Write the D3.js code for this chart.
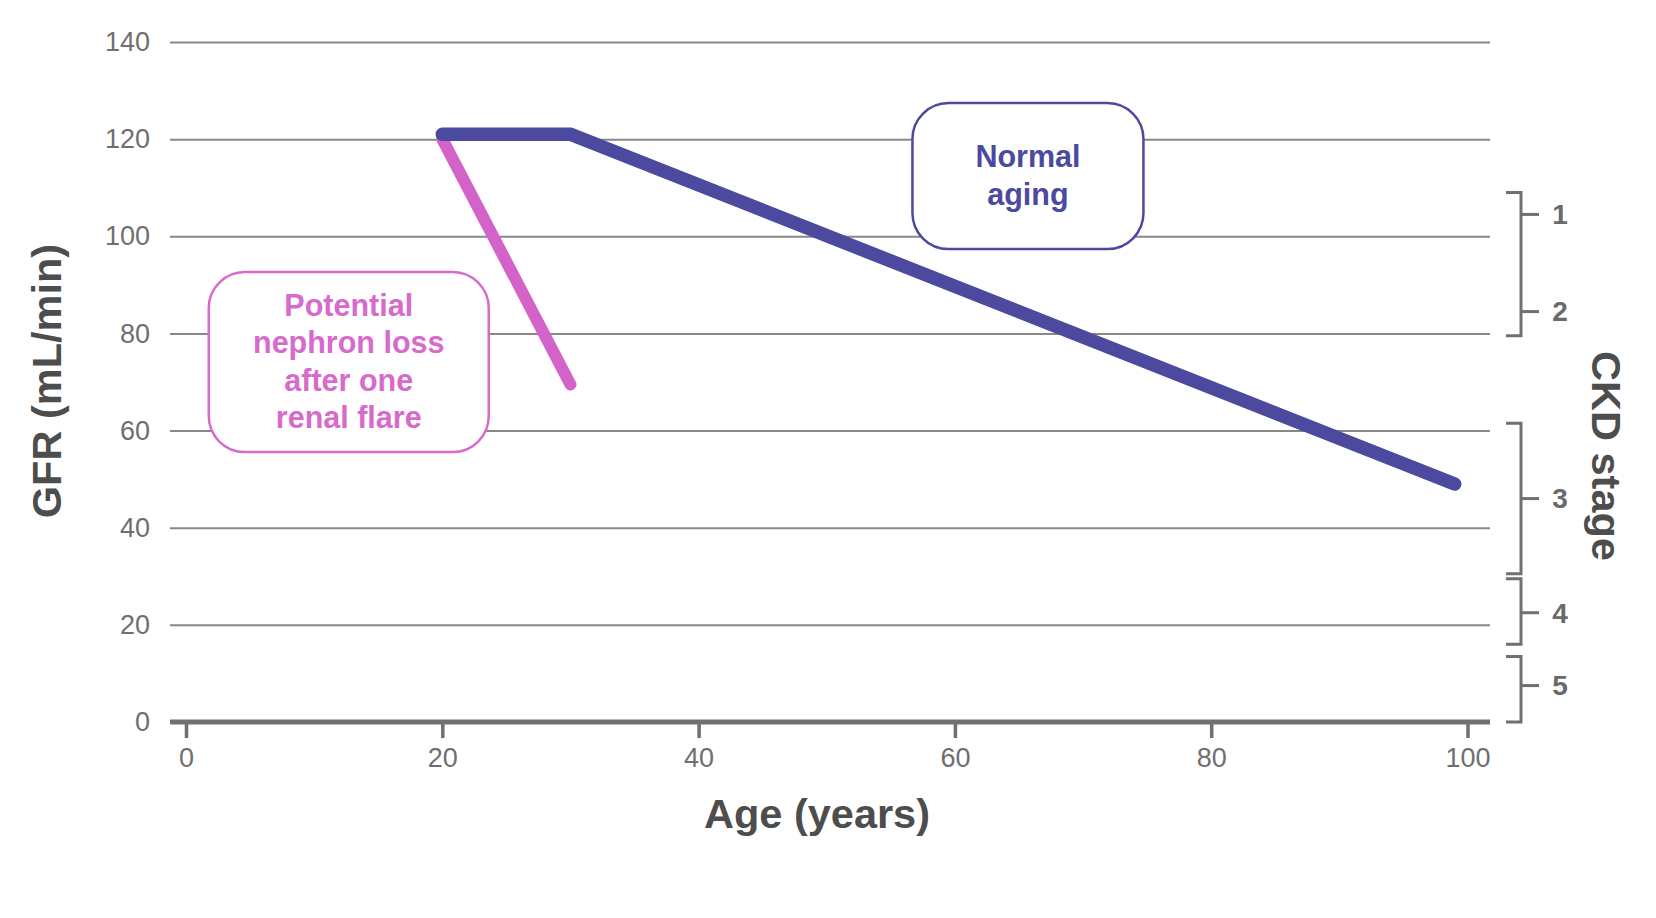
<!DOCTYPE html>
<html>
<head>
<meta charset="utf-8">
<script src="https://cdn.jsdelivr.net/npm/d3@7"></script>
<style>
  html, body { margin: 0; padding: 0; background: #fff; }
  text { font-family: "Liberation Sans", Arial, sans-serif; }
</style>
</head>
<body>
<div id="chart"></div>
<script>
// data
const xTicks = [0, 20, 40, 60, 80, 100];
const yTicks = [0, 20, 40, 60, 80, 100, 120, 140];

const normalAging = [[20, 121], [30, 121], [99, 49]];
const renalFlare = [[20, 120], [30, 69.5]];

// CKD stage brackets on the right (GFR ranges)
const bracketLo = [79.5, 30.5, 16, 0];
const bracketHi = [109, 61.5, 29.5, 13.5];
const stageTicks = [[104.5, 84.5], [46], [22.5], [7.5]];
const stageLabels = [["1", "2"], ["3"], ["4"], ["5"]];

// annotation boxes: centre in data coords
const notes = [
  {age: 65.7, gfr: 112.4, w: 231, h: 146, color: "#4b4a9e", lines: ["Normal", "aging"]},
  {age: 12.7, gfr: 74.1, w: 280, h: 180, color: "#d66bcc", lines: ["Potential", "nephron loss", "after one", "renal flare"]}
];

const width = 1656;
const height = 918;
const gridL = 170, gridR = 1490;

const svg = d3.select("#chart")
    .append("svg")
    .attr("width", width)
    .attr("height", height)
    .attr("viewBox", [0, 0, width, height]);

const x = d3.scaleLinear().domain([0, 100]).range([186, 1467.5]);
const y = d3.scaleLinear().domain([0, 140]).range([722, 42]);

// y axis + gridlines
const yAxis = svg.append("g")
    .attr("transform", `translate(${gridL},0)`)
    .call(d3.axisLeft(y).tickValues(yTicks).tickSize(-(gridR - gridL)).tickPadding(20));
yAxis.select(".domain").remove();
yAxis.selectAll(".tick line").attr("stroke", "#888").attr("stroke-width", 2);
yAxis.selectAll(".tick text")
    .attr("fill", "#6f6f6f")
    .attr("font-size", 27)
    .style("font-family", "'Liberation Sans', Arial, sans-serif");

// x axis
const xAxis = svg.append("g")
    .attr("transform", `translate(0,${y(0)})`)
    .call(d3.axisBottom(x).tickValues(xTicks).tickSize(16).tickPadding(10));
xAxis.select(".domain").remove();
xAxis.selectAll(".tick line").attr("stroke", "#707070").attr("stroke-width", 3.5);
xAxis.selectAll(".tick text")
    .attr("fill", "#6f6f6f")
    .attr("font-size", 27)
    .style("font-family", "'Liberation Sans', Arial, sans-serif");

// baseline
svg.append("line")
    .attr("x1", gridL).attr("x2", gridR)
    .attr("y1", y(0)).attr("y2", y(0))
    .attr("stroke", "#707070")
    .attr("stroke-width", 5);

// lines
const line = d3.line().x(d => x(d[0])).y(d => y(d[1]));

svg.append("path")
    .datum(renalFlare)
    .attr("d", line)
    .attr("fill", "none")
    .attr("stroke", "#d463c9")
    .attr("stroke-width", 12)
    .attr("stroke-linecap", "round");

svg.append("path")
    .datum(normalAging)
    .attr("d", line)
    .attr("fill", "none")
    .attr("stroke", "#4b4a9e")
    .attr("stroke-width", 13.5)
    .attr("stroke-linecap", "round")
    .attr("stroke-linejoin", "miter");

// annotation boxes
notes.forEach(n => {
    const cx = x(n.age), cy = y(n.gfr);
    const g = svg.append("g");
    g.append("rect")
        .attr("x", cx - n.w / 2).attr("y", cy - n.h / 2)
        .attr("width", n.w).attr("height", n.h)
        .attr("rx", 36).attr("ry", 36)
        .attr("fill", "white")
        .attr("stroke", n.color)
        .attr("stroke-width", 2.5);
    const lh = 37.5;
    const y0 = cy - (n.lines.length - 1) * lh / 2;
    g.selectAll("text")
        .data(n.lines)
        .join("text")
        .attr("x", cx)
        .attr("y", (d, i) => y0 + i * lh)
        .attr("dy", "0.32em")
        .attr("text-anchor", "middle")
        .attr("font-size", 30.5)
        .attr("font-weight", "bold")
        .attr("fill", n.color)
        .text(d => d);
});

// CKD stage brackets
const bx = 1521, serif = 15, tickLen = 18;
const bStroke = "#707070";
bracketLo.forEach((lo, i) => {
    const hi = bracketHi[i];
    const g = svg.append("g");
    g.append("path")
        .attr("d", `M${bx - serif},${y(hi)}H${bx}V${y(lo)}H${bx - serif}`)
        .attr("fill", "none")
        .attr("stroke", bStroke)
        .attr("stroke-width", 3);
    stageTicks[i].forEach((t, j) => {
        g.append("line")
            .attr("x1", bx).attr("x2", bx + tickLen)
            .attr("y1", y(t)).attr("y2", y(t))
            .attr("stroke", bStroke)
            .attr("stroke-width", 3);
        g.append("text")
            .attr("x", bx + 39)
            .attr("y", y(t))
            .attr("dy", "0.35em")
            .attr("text-anchor", "middle")
            .attr("font-size", 28)
            .attr("font-weight", "bold")
            .attr("fill", "#6a6a6a")
            .text(stageLabels[i][j]);
    });
});

// axis titles
svg.append("text")
    .attr("transform", `translate(46,${381}) rotate(-90)`)
    .attr("dy", "0.35em")
    .attr("text-anchor", "middle")
    .attr("font-size", 41.5)
    .attr("font-weight", "bold")
    .attr("fill", "#4d4d4d")
    .text("GFR (mL/min)");

svg.append("text")
    .attr("x", 817)
    .attr("y", 828)
    .attr("text-anchor", "middle")
    .attr("font-size", 41.5)
    .attr("font-weight", "bold")
    .attr("fill", "#4d4d4d")
    .text("Age (years)");

svg.append("text")
    .attr("transform", `translate(1607,${456}) rotate(90)`)
    .attr("dy", "0.35em")
    .attr("text-anchor", "middle")
    .attr("font-size", 41.5)
    .attr("font-weight", "bold")
    .attr("fill", "#4d4d4d")
    .text("CKD stage");
</script>
</body>
</html>
